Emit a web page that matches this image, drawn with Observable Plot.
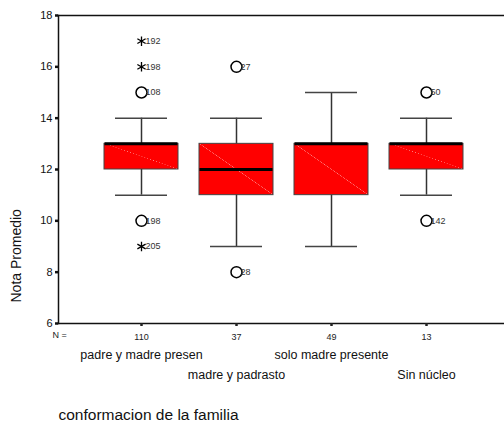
<!DOCTYPE html>
<html>
<head>
<meta charset="utf-8">
<script src="https://cdn.jsdelivr.net/npm/d3@7"></script>
<script src="https://cdn.jsdelivr.net/npm/@observablehq/plot@0.6"></script>
<style>
  html, body { margin: 0; padding: 0; background: #fff; }
  svg { font-family: "Liberation Sans", Arial, sans-serif; }
</style>
</head>
<body>
<div id="chart"></div>
<script>
// ---- data ----
const categories = ["padre y madre presen", "madre y padrasto", "solo madre presente", "Sin núcleo"];
const nCounts = [110, 37, 49, 13];
const whiskerLow = [11, 9, 9, 11];
const q1 = [12, 11, 11, 12];
const median = [13, 12, 13, 13];
const q3 = [13, 13, 13, 13];
const whiskerHigh = [14, 14, 15, 14];

const outlierCat   = [0, 0, 0, 0, 0, 1, 1, 3, 3];
const outlierValue = [17, 16, 15, 10, 9, 16, 8, 15, 10];
const outlierKind  = ["asterisk", "asterisk", "circle", "circle", "asterisk", "circle", "circle", "circle", "circle"];
const outlierLabel = ["192", "198", "108", "198", "205", "27", "28", "50", "142"];

const yTicks = [6, 8, 10, 12, 14, 16, 18];
const yTitle = "Nota Promedio";
const xTitle = "conformacion de la familia";

// ---- tables ----
const boxes = categories.map((c, i) => ({
  cat: c, n: nCounts[i], lo: whiskerLow[i], q1: q1[i], med: median[i], q3: q3[i], hi: whiskerHigh[i]
}));
const outliers = outlierValue.map((v, i) => ({
  cat: categories[outlierCat[i]], value: v, kind: outlierKind[i], label: outlierLabel[i]
}));
const nByCat = new Map(categories.map((c, i) => [c, nCounts[i]]));

const defs = () => {
  const d = d3.create("svg:defs");
  const g = d.append("linearGradient").attr("id", "diag")
    .attr("x1", 0).attr("y1", 1).attr("x2", 1).attr("y2", 0);
  g.append("stop").attr("offset", "0.495").attr("stop-color", "#ff0000");
  g.append("stop").attr("offset", "0.5").attr("stop-color", "#ff8080");
  g.append("stop").attr("offset", "0.505").attr("stop-color", "#ff0000");
  return d.node();
};

const chart = Plot.plot({
  width: 504,
  height: 423,
  marginLeft: 58,
  marginRight: 0,
  marginTop: 15,
  marginBottom: 100,
  style: { fontFamily: "'Liberation Sans', Arial, sans-serif", background: "#fff" },
  x: { type: "band", domain: categories, range: [93.3, 474.7], paddingInner: 0.22, paddingOuter: 0.11, axis: null },
  y: { domain: [6, 18], axis: null },
  marks: [
    defs,
    // frame lines
    Plot.frame({ anchor: "top", stroke: "#111", strokeWidth: 1.5 }),
    Plot.frame({ anchor: "left", stroke: "#111", strokeWidth: 1.5 }),
    Plot.frame({ anchor: "bottom", stroke: "#111", strokeWidth: 1.5 }),
    // y axis
    Plot.axisY({ ticks: yTicks, tickSize: 3, tickPadding: 3, fontSize: 11, label: null, strokeWidth: 2.5, color: "#111" }),
    Plot.text([yTitle], { frameAnchor: "left", rotate: -90, dx: -42, dy: 133, fontSize: 14, fill: "#111" }),
    // x axis ticks + N counts
    Plot.axisX({ tickSize: 3, tickPadding: 7, fontSize: 9, strokeWidth: 2.5, label: null, color: "#222",
      tickFormat: d => String(nByCat.get(d)) }),
    Plot.text(["N ="], { frameAnchor: "bottom-left", dx: -6, dy: 14, fontSize: 9, fill: "#222" }),
    // category labels (staggered)
    Plot.text(categories.filter((d, i) => i % 2 === 0), { x: d => d, frameAnchor: "bottom", dy: 35, fontSize: 12.5, fill: "#111" }),
    Plot.text(categories.filter((d, i) => i % 2 === 1), { x: d => d, frameAnchor: "bottom", dy: 55, fontSize: 12.5, fill: "#111" }),
    Plot.text([xTitle], { frameAnchor: "bottom-left", textAnchor: "start", dy: 96, fontSize: 15.5, fill: "#111" }),
    // whiskers
    Plot.ruleX(boxes, { x: "cat", y1: "lo", y2: "hi", stroke: "#333", strokeWidth: 1.5 }),
    Plot.tickY(boxes, { x: "cat", y: "lo", inset: 11, stroke: "#444", strokeWidth: 1.5 }),
    Plot.tickY(boxes, { x: "cat", y: "hi", inset: 11, stroke: "#444", strokeWidth: 1.5 }),
    // boxes
    Plot.barY(boxes, { x: "cat", y1: "q1", y2: "q3", fill: "url(#diag)", stroke: "#444", strokeWidth: 1 }),
    Plot.tickY(boxes, { x: "cat", y: "med", stroke: "#000", strokeWidth: 3, insetLeft: 0.5, insetRight: 0.5 }),
    // outliers
    Plot.dot(outliers.filter(d => d.kind === "circle"), { x: "cat", y: "value", r: 5.5, stroke: "#000", strokeWidth: 1.5, fill: "none" }),
    Plot.dot(outliers.filter(d => d.kind === "asterisk"), { x: "cat", y: "value", symbol: "asterisk", r: 4.5, stroke: "#000", strokeWidth: 1.3 }),
    Plot.text(outliers, { x: "cat", y: "value", text: "label", dx: 4, textAnchor: "start", fontSize: 9, fill: "#333" })
  ]
});
document.getElementById("chart").appendChild(chart);
</script>
</body>
</html>
